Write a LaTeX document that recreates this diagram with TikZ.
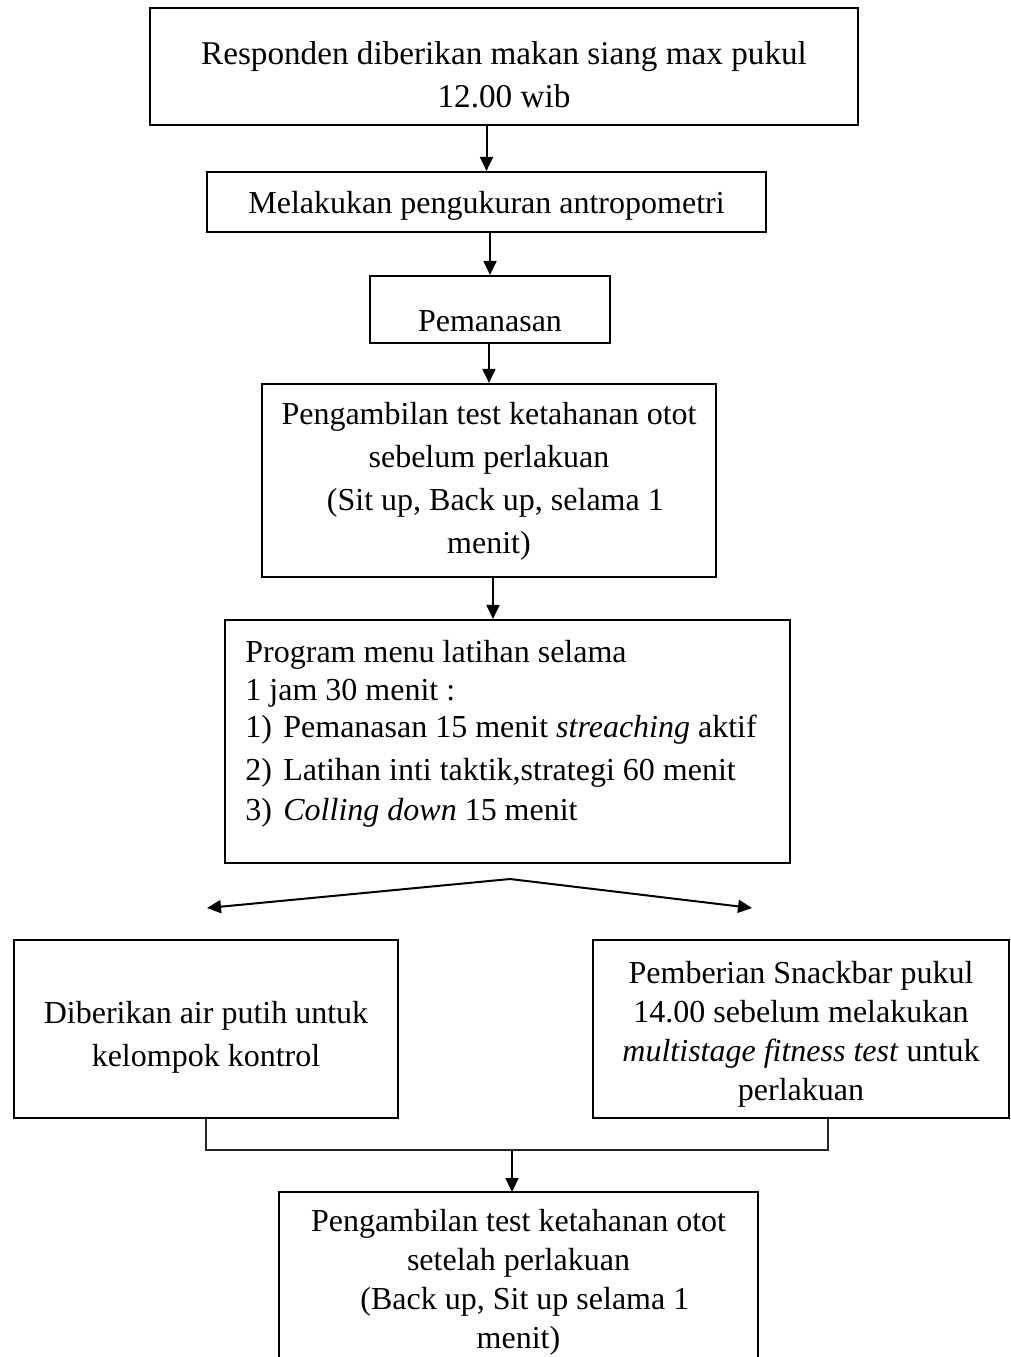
\documentclass[tikz,border=0pt]{standalone}
\usepackage{fontspec}
\setmainfont{Liberation Serif}
\usetikzlibrary{arrows.meta}
\newcommand{\isikotak}[2]{\raisebox{-#1}[\height][\depth]{\begin{tabular}{@{}c@{}}#2\end{tabular}}}

\begin{document}
\begin{tikzpicture}[x=0.5pt,y=-0.5pt,
		kotak/.style={draw, line width=1.1pt, inner sep=0pt, font=\fontsize{16pt}{21.5pt}\selectfont},
		panah/.style={line width=1pt, -{Triangle[length=7pt,width=6.5pt]}},
		garis/.style={line width=0.6pt, black!85}]
		\useasboundingbox (0,0) rectangle (1011,1357);
		\node [kotak, font=\fontsize{16.6pt}{21.5pt}\selectfont, minimum width=354pt, minimum height=58.5pt] (makan) at (504,66.5) {\isikotak{5.3pt}{Responden diberikan makan siang max pukul\\12.00 wib}};
		\node [kotak, minimum width=279.5pt, minimum height=30pt] (antro) at (486.5,202) {\isikotak{1.4pt}{Melakukan pengukuran antropometri}};
		\node [kotak, minimum width=120pt, minimum height=33.5pt] (panas) at (490,309.5) {\isikotak{6.5pt}{Pemanasan}};
		\node [kotak, minimum width=227pt, minimum height=96.5pt] (sebelum) at (489,480.5) {\isikotak{0pt}{Pengambilan test ketahanan otot\\sebelum perlakuan\\\hspace{0.4em}(Sit up, Back up, selama 1\\menit)}};
		\node [kotak, minimum width=282.5pt, minimum height=121.5pt] (program) at (507.5,741.5) {};
		\node [anchor=north west, align=left, inner sep=0pt, font=\fontsize{16pt}{18.75pt}\selectfont] (menu) at (245,640) {Program menu latihan selama\\1 jam 30 menit :\\\makebox[19pt][l]{1)}Pemanasan 15 menit \textit{streaching} aktif\\[2.5pt]\makebox[19pt][l]{2)}Latihan inti taktik,strategi 60 menit\\[1.5pt]\makebox[19pt][l]{3)}\textit{Colling down} 15 menit};
		\node [kotak, minimum width=192pt, minimum height=89pt] (kontrol) at (206,1029) {\isikotak{3.9pt}{Diberikan air putih untuk\\kelompok kontrol}};
		\node [kotak, font=\fontsize{16pt}{19.6pt}\selectfont, minimum width=208pt, minimum height=89pt] (snack) at (801,1029) {\isikotak{2.5pt}{Pemberian Snackbar pukul\\14.00 sebelum melakukan\\\textit{multistage fitness test} untuk\\perlakuan}};
		\node [kotak, font=\fontsize{16pt}{19.5pt}\selectfont, draw=none, anchor=north, minimum width=238.5pt, minimum height=89pt] (sesudah) at (518.5,1192) {\isikotak{0pt}{Pengambilan test ketahanan otot\\setelah perlakuan\\\hspace{0.4em}(Back up, Sit up selama 1\\menit)}};
		\draw [line width=1.1pt] (sesudah.south west) -- (sesudah.north west) -- (sesudah.north east) -- (sesudah.south east);

		\coordinate (cabang) at (510,879);
		\coordinate (kiri) at (207,908);
		\coordinate (kanan) at (752,908);
		\coordinate (gabung) at (828,1150);
		\coordinate (tengah) at (512,1150);

		\draw [panah] (makan.south -| antro.north) -- (antro.north);
		\draw [panah] (antro.south -| panas.north) -- (panas.north);
		\draw [panah] (panas.south -| sebelum.north) -- (sebelum.north);
		\draw [panah] (sebelum.south -| 493,0) -- (program.north -| 493,0);
		\draw [panah] (cabang) -- (kiri);
		\draw [panah] (cabang) -- (kanan);
		\draw [garis] (kontrol.south) |- (gabung) -- (snack.south -| gabung);
		\draw [panah] (tengah) -- (tengah |- sesudah.north);
	\end{tikzpicture}
\end{document}
